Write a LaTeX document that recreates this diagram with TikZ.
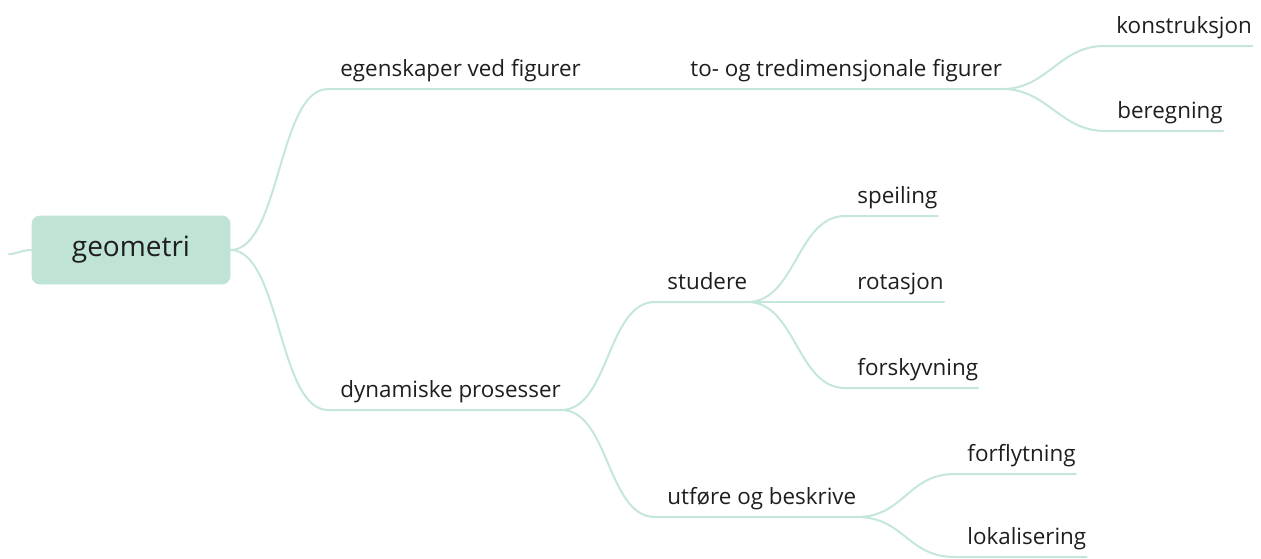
\documentclass[tikz,border=0pt]{standalone}
\usepackage{fontspec}
\setmainfont{Open Sans}
\usepackage{xcolor}
\definecolor{mintfill}{RGB}{191,227,213}
\definecolor{mintline}{RGB}{196,231,217}
\definecolor{inkgray}{RGB}{30,30,30}
\usetikzlibrary{positioning}

\begin{document}
\begin{tikzpicture}[x=0.5pt,y=-0.5pt]
    \tikzset{
        rootbox/.style={draw=mintfill, fill=mintfill, rounded corners=4pt,
            minimum width=99pt, minimum height=34pt, font=\fontsize{14}{16}\selectfont,
            text=inkgray},
        topic/.style={anchor=south west, inner xsep=0pt, inner ysep=3.5pt,
            text depth=2.5pt, font=\fontsize{11.2}{13}\selectfont, text=inkgray},
        branch/.style={draw=mintline, line width=1pt, line cap=round, line join=round}
    }
    \useasboundingbox (0,0) rectangle (1261,558);

    % Central topic
    \node[rootbox] (geometri) at (131,250) {geometri};
    \coordinate (stub) at (9,254);

    % Upper branch
    \node[topic] (egensk) at (340,89) {egenskaper ved figurer};
    \node[topic] (tredim) at (690,89) {to- og tredimensjonale figurer};
    \node[topic] (konstr) at (1116,46) {konstruksjon};
    \node[topic] (bereg) at (1117,131) {beregning};

    % Lower branch
    \node[topic] (dynam) at (340,410) {dynamiske prosesser};
    \node[topic] (studere) at (667,302) {studere};
    \node[topic] (speil) at (857,216) {speiling};
    \node[topic] (rotasj) at (857,302) {rotasjon};
    \node[topic] (forskyv) at (857,388) {forskyvning};
    \node[topic] (utfore) at (667,517) {utføre og beskrive};
    \node[topic] (forflyt) at (967,474) {forflytning};
    \node[topic] (lokal) at (967,557) {lokalisering};

    % Connectors
    \draw[branch] (geometri.west) .. controls +(-10,0) and +(8,0) .. (stub);
    \draw[branch] (geometri.east) .. controls +(50,0) and +(-50,0) .. ([xshift=-6pt]egensk.south west)
        -- (egensk.south east) -- ([xshift=-6pt]tredim.south west) -- (tredim.south east);
    \draw[branch] (tredim.south east) .. controls +(45,0) and +(-45,0) .. ([xshift=-6pt]konstr.south west) -- (konstr.south east);
    \draw[branch] (tredim.south east) .. controls +(45,0) and +(-45,0) .. ([xshift=-6pt]bereg.south west) -- (bereg.south east);

    \draw[branch] (geometri.east) .. controls +(50,0) and +(-50,0) .. ([xshift=-6pt]dynam.south west) -- (dynam.south east);
    \draw[branch] (dynam.south east) .. controls +(48,0) and +(-48,0) .. ([xshift=-6pt]studere.south west) -- (studere.south east);
    \draw[branch] (dynam.south east) .. controls +(48,0) and +(-48,0) .. ([xshift=-6pt]utfore.south west) -- (utfore.south east);

    \draw[branch] (studere.south east) .. controls +(48,0) and +(-48,0) .. ([xshift=-6pt]speil.south west) -- (speil.south east);
    \draw[branch] (studere.south east) -- ([xshift=-6pt]rotasj.south west) -- (rotasj.south east);
    \draw[branch] (studere.south east) .. controls +(48,0) and +(-48,0) .. ([xshift=-6pt]forskyv.south west) -- (forskyv.south east);

    \draw[branch] (utfore.south east) .. controls +(48,0) and +(-48,0) .. ([xshift=-6pt]forflyt.south west) -- (forflyt.south east);
    \draw[branch] (utfore.south east) .. controls +(48,0) and +(-48,0) .. ([xshift=-6pt]lokal.south west) -- (lokal.south east);
\end{tikzpicture}
\end{document}
